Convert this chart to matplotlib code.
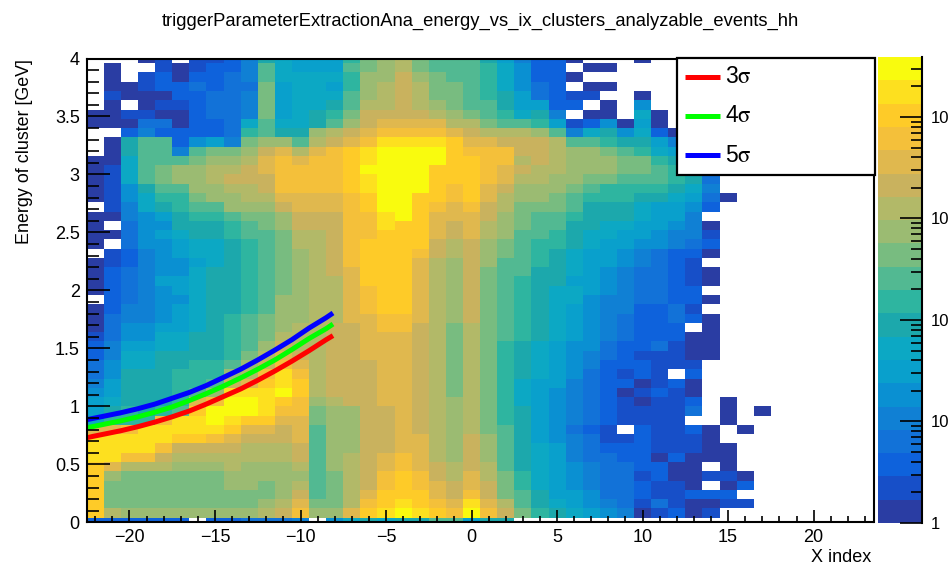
import numpy as np
import matplotlib
matplotlib.use("Agg")
import matplotlib.pyplot as plt
from matplotlib.colors import ListedColormap, BoundaryNorm
from matplotlib.lines import Line2D
from matplotlib.patches import Rectangle
from matplotlib.ticker import MultipleLocator, LogLocator, NullFormatter

plt.rcParams["font.family"] = ["Liberation Sans", "DejaVu Sans"]
plt.rcParams["mathtext.fontset"] = "stix"

W, H = 949, 567

# DATA

# colour band read per bin, one string per X index, from E = 0 upwards
# first char: thin bottom bin, then groups of 5 bins (0.08 GeV each), '.' = empty
# 0..9 a..j = band of the palette (bottom to top of the colour bar)
ix_values = list(range(-22, 18))
band_columns = [
    "2 hhhhh hiiif 76654 33221 000.0 000.0 000.0 0000. ..00. .....",
    "2 dbbbc fiiif 98766 55443 33222 2211. 0.011 11100 0.000 1000.",
    "2 cbbbb dgiig 99888 87765 54433 33223 33445 57778 8201. 00...",
    "2 cbbbb dgiii 98888 87765 54444 44445 55577 8aaaa a4310 011.0",
    "2 cbbbb degii g9888 88877 65555 65555 65689 abbaa a2301 02211",
    "2 cbbbb cdehi ia999 98877 66656 65566 78899 acca4 22001 2200.",
    ". cbbbb cdehi ihfa9 99888 77777 77677 889ab cccba 52222 23211",
    "2 cbbbb cdegi jjgca 99888 88888 88777 889ac cddcb 62233 32221",
    "2 cbbcc ddefh ijjie ca999 99888 88888 99acc dedcb 43333 33322",
    "3 cbbcc cddef hjjif dcbaa aa999 99999 aabcd deedc b9744 43444",
    "3 dcbbc cddef hiiih gedcb bbaaa aaaaa abbcd eeffe caabb bbaa8",
    "3 edccc cddee fghji igfed ccccb bbbbb bccef ggggf c8766 66777",
    "4 gfedc deeff fgghh gfedd dcccc ccccd deeff gggfd a8777 77766",
    ". cbaaa aaaaa bbcdd ddddd ddddd ddddd deeff ggggf dc887 77766",
    "5 cbbbb ccccc ccdee eeeee edddd deeee eeeff ggggg eda98 76766",
    "7 fdddd ddccc cceee eeeee effff ffggg ggggg hhhhh fecba a99a9",
    "8 hgfee eeeee eeeee eefff ffggg hhhhh ggghh iijii gfeed cccbb",
    "7 ihhgg ffeee eefff fffff gghhh hhhhh hiijj jjjjj igfed ddccc",
    "8 jihhh ggfff fffff fffff gghhh hhhhh hhjjj jjjjj igfee eeedd",
    "8 ihhgg ffffe eeeee eeeee effff fffgh hhhhh jjjjj igfed ddcbb",
    "a hgffe edddd ddddd ddddd ddddd dddee fffgh hhhjj igfdc bbbaa",
    "a gfeed dcccc cccbb bbbbb bcccc cccdd eeffg ghhhh hfdcb bbaaa",
    "6 jigff eeeed ddddd ddddd deeee eeeee fffgh hhhhg fedba aaaaa",
    "8 gfeed dcccb bbbbb bbbbb bbbbb bbccc ddeef fgggg fdbaa 99998",
    "8 edbbb aaaaa 99999 9999a aaaaa aaabb cccdd effgg eda98 87776",
    ". baa99 88888 88777 88889 99999 9aaaa abbbc cdede eda76 65554",
    ". 98877 77766 66666 77778 88888 88999 aaabc cddee ec986 33222",
    ". 87666 66655 55556 66667 77777 88889 9aabb ccddd da642 22222",
    ". 76655 54443 44444 55556 66677 67778 889aa bcccc a41.2 1.0.0",
    ". 65544 43332 33333 34455 55556 66667 78889 abccc a720. 10.0.",
    ". 54333 33211 22222 22334 44445 55666 77889 9bccb 98500 .0.0.",
    ". 43333 3221. 11102 12223 33444 44556 67889 9abba 850.. .....",
    ". 01221 22222 11010 22122 22233 33445 66778 9abb9 87675 0...0",
    ". 13112 20111 11121 11132 22233 33335 56668 9aa97 6200. .....",
    ". 21110 02111 11112 .1112 23322 22224 45667 89986 40... .....",
    ". 00200 00112 .3200 21000 .2122 11123 44456 78899 ..... .....",
    ". 102.1 .0000 ..... ..000 00.0. 00.02 10.23 43... ..... .....",
    ". .1201 000.. 000.. ..... ..... ..... ....0 ..... ..... .....",
    ". .1.20 ....0 ..... ..... ..... ..... ..... ..... ..... .....",
    ". ..... ..... .0... ..... ..... ..... ..... ..... ..... .....",
]

# trigger curves
curve_x = [-22.5, -21.5, -20.5, -19.5, -18.5, -17.5, -16.5, -15.5, -14.5, -13.5, -12.5, -11.5, -10.5, -9.5, -8.5, -8.1]
curve_3s = [0.73, 0.76, 0.79, 0.825, 0.865, 0.91, 0.96, 1.02, 1.085, 1.15, 1.225, 1.305, 1.39, 1.48, 1.575, 1.61]
curve_4s = [0.815, 0.845, 0.875, 0.91, 0.95, 0.995, 1.05, 1.11, 1.175, 1.245, 1.32, 1.40, 1.49, 1.585, 1.67, 1.71]
curve_5s = [0.885, 0.915, 0.945, 0.98, 1.02, 1.07, 1.12, 1.18, 1.25, 1.32, 1.40, 1.485, 1.575, 1.675, 1.765, 1.805]

z_max = 39000
n_bands = 20

# kBird-like palette, bottom to top
band_colors = ["#2a3da3", "#174fc8", "#0e62dc", "#1272d8", "#1080d4", "#0a90d2", "#09a0cc", "#0ca8c4",
               "#1ca8ac", "#2eb5a0", "#52b992", "#78bc80", "#9bbb72", "#b2b968", "#c9b25e", "#e0b84e",
               "#f4c03a", "#fecb28", "#fde01f", "#f9fb0e"]

# HISTOGRAM

code = "0123456789abcdefghij"
count_edges = 10 ** np.linspace(0, np.log10(z_max), n_bands + 1)
cmap = ListedColormap(band_colors)
cmap.set_bad("white", 0)
norm = BoundaryNorm(count_edges, n_bands)

rows = [c.replace(" ", "") for c in band_columns]
counts = np.full((len(rows[0]), len(rows)), np.nan)
for i, col in enumerate(rows):
    for j, ch in enumerate(col):
        if ch != ".":
            counts[j, i] = np.sqrt(count_edges[code.index(ch)] * count_edges[code.index(ch) + 1])

x_edges = np.arange(len(ix_values) + 1) + ix_values[0] - 0.5
y_edges = np.r_[0.0, 0.04 + 0.08 * np.arange(len(rows[0]))]

fig = plt.figure(figsize=(W / 100, H / 100), dpi=100)


def px_box(x0, y0, x1, y1):
    return [x0 / W, 1 - y1 / H, (x1 - x0) / W, (y1 - y0) / H]


ax = fig.add_axes(px_box(86.7, 58.5, 873.5, 522.3))
ax.pcolormesh(x_edges, y_edges, np.ma.masked_invalid(counts), cmap=cmap, norm=norm, antialiased=False)

ax.plot(curve_x, curve_3s, color="#ff0000", lw=3.6, solid_capstyle="butt")
ax.plot(curve_x, curve_4s, color="#00ff00", lw=3.6, solid_capstyle="butt")
ax.plot(curve_x, curve_5s, color="#0000ff", lw=3.6, solid_capstyle="butt")

ax.set_xlim(-22.5, 23.5)
ax.set_ylim(0, 4)
ax.set_axisbelow(False)
ax.xaxis.set_major_locator(MultipleLocator(5))
ax.xaxis.set_minor_locator(MultipleLocator(1))
ax.yaxis.set_major_locator(MultipleLocator(0.5))
ax.yaxis.set_minor_locator(MultipleLocator(0.1))
ax.tick_params(axis="x", which="major", direction="in", length=8.6, width=1.2, labelsize=13, pad=5)
ax.tick_params(axis="x", which="minor", direction="in", length=4.3, width=1.2)
ax.tick_params(axis="y", which="major", direction="in", length=16.6, width=1.2, labelsize=13, pad=5)
ax.tick_params(axis="y", which="minor", direction="in", length=8.6, width=1.2)
ax.set_yticks([0, 0.5, 1, 1.5, 2, 2.5, 3, 3.5, 4], ["0", "0.5", "1", "1.5", "2", "2.5", "3", "3.5", "4"])
for s in ax.spines.values():
    s.set_linewidth(1.5)

# COLOUR BAR

cax = fig.add_axes(px_box(878, 57, 922, 523))
cax.pcolormesh([0, 1], count_edges, np.sqrt(count_edges[:-1] * count_edges[1:]).reshape(-1, 1),
               cmap=cmap, norm=norm, antialiased=False)
cax.set_yscale("log")
cax.set_ylim(1, z_max)
cax.set_xlim(0, 1)
cax.set_xticks([])
for side in ["left", "top", "bottom"]:
    cax.spines[side].set_visible(False)
cax.spines["right"].set_linewidth(1.5)
cax.yaxis.tick_right()
cax.yaxis.set_major_locator(LogLocator(base=10, numticks=6))
cax.yaxis.set_minor_locator(LogLocator(base=10, subs=range(2, 10), numticks=6))
cax.yaxis.set_minor_formatter(NullFormatter())
cax.set_yticks([1, 10, 100, 1000, 10000], ["1", "10", "10", "10", "10"])
cax.tick_params(axis="y", which="major", direction="in", length=16, width=1.2, labelsize=12, pad=6)
cax.tick_params(axis="y", which="minor", direction="in", length=8, width=1.2)

# LEGEND

fig.add_artist(Rectangle((677 / W, 1 - 175 / H), 198 / W, 117 / H, transform=fig.transFigure,
                         facecolor="white", edgecolor="black", lw=1.6, zorder=5))
legend_names = ["3$\\mathrm{\\sigma}$", "4$\\mathrm{\\sigma}$", "5$\\mathrm{\\sigma}$"]
legend_colors = ["#ff0000", "#00ff00", "#0000ff"]
for name, c, y in zip(legend_names, legend_colors, [77, 116, 155]):
    fig.add_artist(Line2D([685 / W, 720 / W], [1 - y / H] * 2, color=c, lw=3.6, zorder=6, solid_capstyle="butt"))
    fig.text(725 / W, 1 - y / H, name, fontsize=16.5, va="center", ha="left", zorder=6)

# TEXTS

fig.text(480 / W, 1 - 21 / H, "triggerParameterExtractionAna_energy_vs_ix_clusters_analyzable_events_hh",
         fontsize=13.2, ha="center", va="center")
fig.text(871 / W, 1 - 557 / H, "X index", fontsize=13, ha="right", va="center")
fig.text(25 / W, 1 - 59 / H, "Energy of cluster [GeV]", fontsize=12.9, rotation=90, ha="center", va="top")

fig.savefig("out.png", dpi=100)
